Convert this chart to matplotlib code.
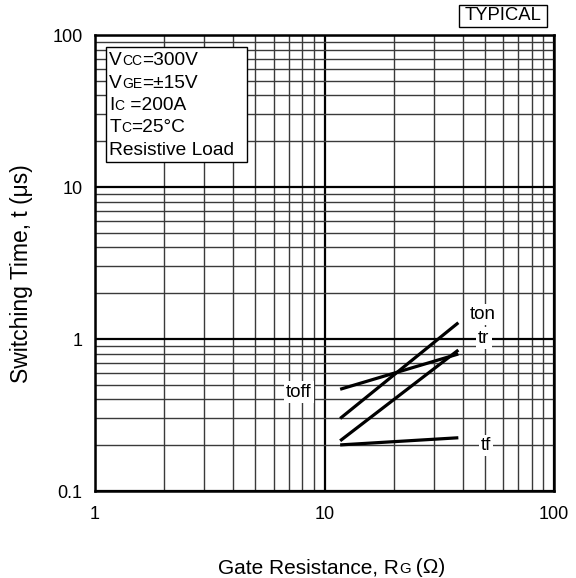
import matplotlib
matplotlib.use("Agg")
import matplotlib.pyplot as plt
from matplotlib.patches import Rectangle
from matplotlib.ticker import LogLocator, NullFormatter, FixedLocator, FixedFormatter

plt.rcParams['font.family'] = ['Liberation Sans', 'DejaVu Sans']

# ---- data ----
rg = [11.7, 38.3]
t_on = [0.30, 1.28]
t_r = [0.214, 0.846]
t_off = [0.467, 0.797]
t_f = [0.201, 0.224]
series_names = ["ton", "tr", "toff", "tf"]
x_ticks = [1, 10, 100]
x_tick_labels = ["1", "10", "100"]
y_ticks = [0.1, 1, 10, 100]
y_tick_labels = ["0.1", "1", "10", "100"]

W, H = 576, 578
fig = plt.figure(figsize=(W / 100, H / 100), dpi=100)
L, R, T, B = 95, 554, 35, 491
ax = fig.add_axes([L / W, (H - B) / H, (R - L) / W, (B - T) / H])
ax.set_xscale('log')
ax.set_yscale('log')
ax.set_xlim(1, 100)
ax.set_ylim(0.1, 100)

# grid
ax.xaxis.set_major_locator(FixedLocator(x_ticks))
ax.xaxis.set_major_formatter(FixedFormatter(x_tick_labels))
ax.yaxis.set_major_locator(FixedLocator(y_ticks))
ax.yaxis.set_major_formatter(FixedFormatter(y_tick_labels))
ax.xaxis.set_minor_locator(LogLocator(base=10, subs=range(2, 10)))
ax.yaxis.set_minor_locator(LogLocator(base=10, subs=range(2, 10)))
ax.xaxis.set_minor_formatter(NullFormatter())
ax.yaxis.set_minor_formatter(NullFormatter())
ax.grid(True, which='major', color='black', lw=1.6, zorder=0)
ax.grid(True, which='minor', color='#3a3a3a', lw=1.0, zorder=0)
ax.set_axisbelow(True)
ax.tick_params(which='both', length=0)
ax.tick_params(axis='x', pad=11, labelsize=13)
ax.tick_params(axis='y', pad=9, labelsize=13)
for sp in ax.spines.values():
    sp.set_linewidth(1.8)
    sp.set_color('black')

# curves
for ys in (t_on, t_r, t_off, t_f):
    ax.plot(rg, ys, color='black', lw=2.3, solid_capstyle='butt', zorder=3)

lab_kw = dict(fontsize=13.5, ha='center', va='center', zorder=4,
              bbox=dict(facecolor='white', edgecolor='none', pad=1.5))
ax.text(49.0, 1.44, series_names[0], **lab_kw)
ax.text(49.5, 1.015, series_names[1], **lab_kw)
ax.text(7.74, 0.448, series_names[2], **lab_kw)
ax.text(50.5, 0.198, series_names[3], **lab_kw)

# condition box
bx0, bx1, by0, by1 = 105.7, 246.7, 46.7, 161.7
ax.add_patch(Rectangle((bx0 / W, (H - by1) / H), (bx1 - bx0) / W, (by1 - by0) / H,
                       transform=fig.transFigure, facecolor='white', edgecolor='black',
                       lw=1.0, zorder=5))

renderer = fig.canvas.get_renderer()


def seg_text(px, py, segments, zorder=6):
    x = px
    for s, size in segments:
        t = fig.text(x / W, (H - py) / H, s, fontsize=size, ha='left', va='baseline',
                     zorder=zorder)
        bb = t.get_window_extent(renderer=renderer)
        x += bb.width


big, small = 13.8, 10.0
seg_text(109.3, 65, [("V", big), ("CC", small), ("=300V", big)])
seg_text(109.3, 87.5, [("V", big), ("GE", small), ("=±15V", big)])
seg_text(109.3, 110, [("I", big), ("C", small), (" =200A", big)])
seg_text(109.3, 132.5, [("T", big), ("C", small), ("=25°C", big)])
seg_text(109.3, 155, [("Resistive Load", big)])

# TYPICAL box
tx0, tx1, ty0, ty1 = 459, 547, 5, 27
fig.add_artist(Rectangle((tx0 / W, (H - ty1) / H), (tx1 - tx0) / W, (ty1 - ty0) / H,
                         transform=fig.transFigure, facecolor='white', edgecolor='black',
                         lw=1.0))
fig.text((tx0 + tx1) / 2 / W, (H - (ty0 + ty1) / 2) / H, "TYPICAL", fontsize=13.3,
         ha='center', va='center')

# axis labels
seg_text(218, 573, [("Gate Resistance, R", 15), ("G", 10.8), (" (Ω)", 15)])
fig.text(22 / W, (H - 274) / H, "Switching Time, t (μs)", rotation=90, fontsize=16.5,
         ha='center', va='center')

fig.savefig("out.png", dpi=100)
